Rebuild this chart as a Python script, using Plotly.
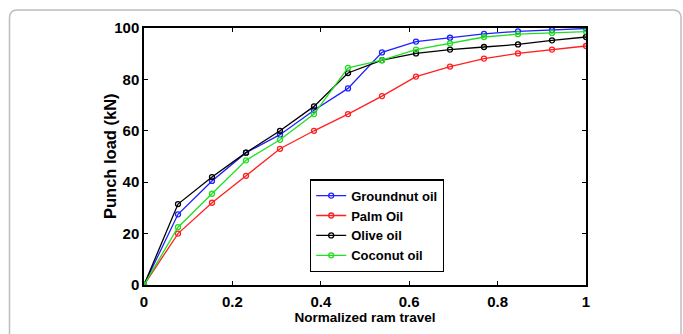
import plotly.graph_objects as go

x_travel = [0, 1/13, 2/13, 3/13, 4/13, 5/13, 6/13, 7/13, 8/13, 9/13, 10/13, 11/13, 12/13, 1.0]
groundnut = [0, 27.5, 40.5, 51.5, 58.5, 68.0, 76.5, 90.5, 94.7, 96.2, 97.7, 98.7, 99.2, 99.8]
palm = [0, 20.0, 32.0, 42.5, 53.0, 60.0, 66.5, 73.5, 81.1, 85.0, 88.1, 90.1, 91.6, 93.0]
olive = [0, 31.5, 42.0, 51.5, 60.0, 69.5, 82.5, 87.5, 90.1, 91.6, 92.6, 93.6, 95.2, 96.5]
coconut = [0, 22.5, 35.5, 48.5, 56.5, 66.5, 84.5, 87.5, 91.6, 94.0, 96.5, 97.6, 98.1, 98.6]

series = [
    ("Groundnut oil", groundnut, "#1f1fff"),
    ("Palm Oil", palm, "#ff1f1f"),
    ("Olive oil", olive, "#000000"),
    ("Coconut oil", coconut, "#1fe01f"),
]

fig = go.Figure()
for name, vals, col in series:
    fig.add_trace(go.Scatter(
        x=x_travel, y=vals, name=name, mode="lines+markers",
        line=dict(color=col, width=1.3),
        marker=dict(symbol="circle-open", size=5, color=col, line=dict(width=1.3, color=col)),
    ))

L, R, T, B = 144, 97, 28, 43
W, H = 683, 334
pw, ph = W - L - R, H - T - B

def px(x):
    return (x - L) / pw

def py(y):
    return (H - B - y) / ph

x0, x1 = px(9.5), px(681)
yt, yb = py(9.5), py(345)
rx, ry = 8 / pw, 8 / ph
path = (f"M {x0},{yb} L {x0},{yt-ry} Q {x0},{yt} {x0+rx},{yt} "
        f"L {x1-rx},{yt} Q {x1},{yt} {x1},{yt-ry} L {x1},{yb}")

fig.add_shape(type="path", path=path, xref="paper", yref="paper",
              line=dict(color="#bdbdbd", width=1.5), layer="below")

fnt = "Liberation Sans, Arial"

fig.add_annotation(
    text="Punch load (kN)", textangle=-90, showarrow=False,
    xref="paper", yref="paper", x=px(110), y=py(159),
    xanchor="center", yanchor="middle",
    font=dict(size=16.5, family=fnt, color="black", weight="bold"),
)

fig.update_layout(
    width=W, height=H,
    margin=dict(l=L, r=R, t=T, b=B, pad=0),
    paper_bgcolor="white", plot_bgcolor="white",
    font=dict(family=fnt, color="black"),
    showlegend=True,
    legend=dict(
        x=px(310), y=py(183), xanchor="left", yanchor="top",
        bgcolor="white", bordercolor="black", borderwidth=1.2,
        font=dict(size=13, family=fnt, color="black", weight="bold"),
        itemwidth=30, tracegroupgap=0,
    ),
    xaxis=dict(
        range=[0, 1], tickvals=[0, 0.2, 0.4, 0.6, 0.8, 1], ticktext=["0", "0.2", "0.4", "0.6", "0.8", "1"],
        showgrid=False, zeroline=False, showline=True, linecolor="black", linewidth=1.5,
        mirror="allticks", ticks="inside", ticklen=4, tickcolor="black",
        tickfont=dict(size=15, weight="bold"), ticklabelstandoff=2,
        title=dict(text="Normalized ram travel", font=dict(size=13.5, weight="bold"), standoff=3),
    ),
    yaxis=dict(
        range=[0, 100], tickvals=[0, 20, 40, 60, 80, 100],
        showgrid=False, zeroline=False, showline=True, linecolor="black", linewidth=1.5,
        mirror="allticks", ticks="inside", ticklen=4, tickcolor="black",
        tickfont=dict(size=15, weight="bold"),
    ),
)

fig.write_html("out.html")
